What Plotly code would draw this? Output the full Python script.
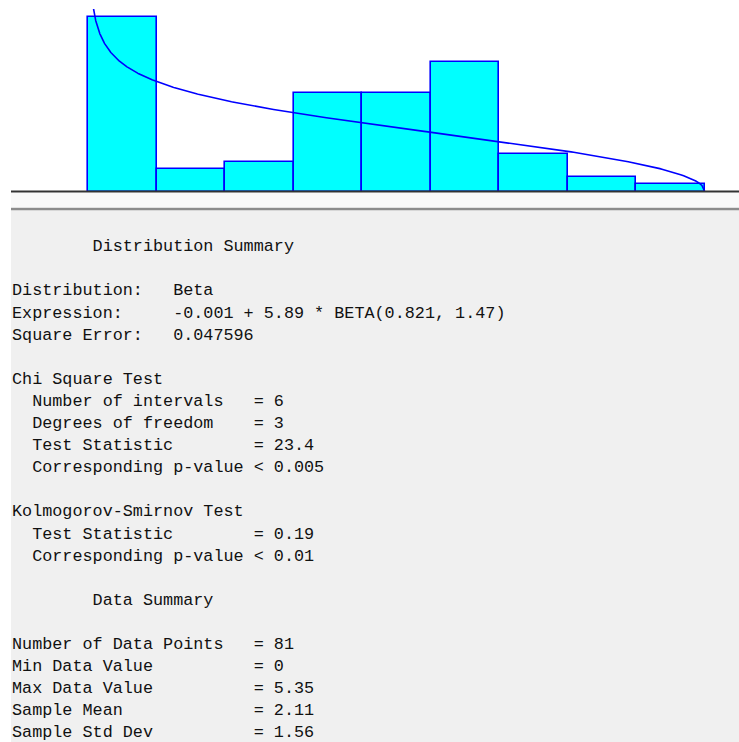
import math
import plotly.graph_objects as go

# ---- data -------------------------------------------------------------
bin_counts = [23, 3, 4, 13, 13, 17, 5, 2, 1]   # observations per interval
n_points = 81
beta_alpha = 0.821
beta_beta = 1.47
beta_offset = -0.001
beta_scale = 5.89

summary_lines = [
    "        Distribution Summary",
    "",
    "Distribution:   Beta",
    "Expression:     -0.001 + 5.89 * BETA(0.821, 1.47)",
    "Square Error:   0.047596",
    "",
    "Chi Square Test",
    "  Number of intervals   = 6",
    "  Degrees of freedom    = 3",
    "  Test Statistic        = 23.4",
    "  Corresponding p-value < 0.005",
    "",
    "Kolmogorov-Smirnov Test",
    "  Test Statistic        = 0.19",
    "  Corresponding p-value < 0.01",
    "",
    "        Data Summary",
    "",
    "Number of Data Points   = 81",
    "Min Data Value          = 0",
    "Max Data Value          = 5.35",
    "Sample Mean             = 2.11",
    "Sample Std Dev          = 1.56",
]

# ---- geometry -----------------------------------------------------------
W, H = 739, 742
plot_left, plot_right = 11, 739
plot_top, plot_bottom = 9, 192
hist_left_px, hist_right_px = 88, 705

n_bins = len(bin_counts)
lo = beta_offset
hi = beta_offset + beta_scale
bin_w = (hi - lo) / n_bins
centers = [lo + (i + 0.5) * bin_w for i in range(n_bins)]
rel_freq = [c / n_points for c in bin_counts]

px_per_unit = (hist_right_px - hist_left_px) / (hi - lo)
x_range = [lo - (hist_left_px - plot_left) / px_per_unit,
           hi + (plot_right - hist_right_px) / px_per_unit]

# vertical scale chosen so the tallest bar top sits near the frame top
tall_px = 175.3
y_top = (plot_bottom - plot_top) / tall_px * max(rel_freq)

# fitted beta density, scaled to the interval width
B = math.gamma(beta_alpha) * math.gamma(beta_beta) / math.gamma(beta_alpha + beta_beta)


def beta_pdf(u):
    if u <= 0 or u >= 1:
        return 0.0
    return u ** (beta_alpha - 1) * (1 - u) ** (beta_beta - 1) / B


n_samp = 600
us = [(k / n_samp) ** 3 for k in range(1, n_samp)] + [1.0]
curve_x = [lo + u * beta_scale for u in us]
curve_y = [beta_pdf(u) / n_bins for u in us]

fig = go.Figure()

fig.add_trace(go.Bar(
    x=centers, y=rel_freq, width=bin_w,
    marker=dict(color="#00ffff", line=dict(color="#0000ff", width=1.6)),
    hoverinfo="skip",
))
fig.add_trace(go.Scatter(
    x=curve_x, y=curve_y, mode="lines",
    line=dict(color="#0000ff", width=1.6),
    hoverinfo="skip",
))


def px_x(x):
    return x / W


def px_y(y):
    return 1 - y / H


shapes = [
    # light strip under the chart
    dict(type="rect", xref="paper", yref="paper",
         x0=px_x(plot_left), x1=1, y0=px_y(207), y1=px_y(193),
         fillcolor="#f9f9f9", line=dict(width=0), layer="below"),
    # grey text panel
    dict(type="rect", xref="paper", yref="paper",
         x0=px_x(plot_left), x1=1, y0=0, y1=px_y(210),
         fillcolor="#f0f0f0", line=dict(width=0), layer="below"),
    # separator
    dict(type="line", xref="paper", yref="paper",
         x0=px_x(plot_left), x1=1, y0=px_y(209), y1=px_y(209),
         line=dict(color="#8c8c8c", width=2.5)),
    # chart baseline
    dict(type="line", xref="paper", yref="paper",
         x0=px_x(plot_left), x1=1, y0=px_y(191.6), y1=px_y(191.6),
         line=dict(color="#333333", width=2)),
]

annotations = []
first_line_y = 246.7
line_pitch = 22.1
for i, line in enumerate(summary_lines):
    if not line:
        continue
    annotations.append(dict(
        xref="paper", yref="paper",
        x=px_x(10), y=px_y(first_line_y + i * line_pitch),
        xanchor="left", yanchor="middle",
        text=line.replace(" ", "\u00a0"),
        showarrow=False,
        font=dict(family="Liberation Mono, Courier New, monospace",
                  size=16.8, color="#111111"),
    ))

fig.update_layout(
    width=W, height=H,
    margin=dict(l=0, r=0, t=0, b=0),
    paper_bgcolor="#ffffff",
    plot_bgcolor="rgba(0,0,0,0)",
    showlegend=False,
    bargap=0,
    xaxis=dict(domain=[plot_left / W, plot_right / W], range=x_range,
               visible=False, fixedrange=True),
    yaxis=dict(domain=[1 - plot_bottom / H, 1 - plot_top / H],
               range=[0, y_top], visible=False, fixedrange=True),
    shapes=shapes,
    annotations=annotations,
)

fig.write_html("out.html", config={"displayModeBar": False})
